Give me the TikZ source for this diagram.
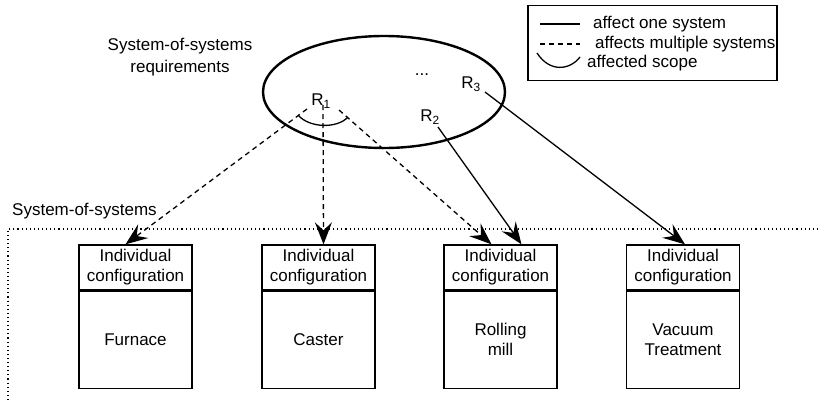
\documentclass[tikz,border=0pt]{standalone}
\usepackage{fontspec}
\setmainfont{Liberation Sans}
\usetikzlibrary{arrows.meta,calc}

\tikzset{
  lbl/.style={inner sep=0pt, font=\fontsize{17}{20}\selectfont},
  hdrbox/.style={draw, line width=1.3pt, minimum width=113pt, minimum height=45pt,
    inner sep=0pt, align=center, font=\fontsize{17}{20}\selectfont},
  bodybox/.style={draw, line width=1.3pt, minimum width=113pt, minimum height=97pt,
    inner sep=0pt, align=center, font=\fontsize{17}{20}\selectfont},
  tip/.style={-{Stealth[length=22pt,width=17pt,inset=8pt]}},
  one/.style={tip, line width=1.3pt},
  many/.style={tip, line width=1.3pt, dash pattern=on 5pt off 4pt},
  scope/.style={line width=1.3pt},
  sosborder/.style={line width=1.1pt, dash pattern=on 1.1pt off 3pt},
}

\begin{document}
\begin{tikzpicture}[x=1pt,y=-1pt]
\useasboundingbox (0,0) rectangle (818,402);

% requirements ellipse
\draw[line width=2.4pt] (384,92) ellipse [x radius=121, y radius=56];
\node[lbl, align=center, font=\fontsize{17}{22}\selectfont] (reqlbl) at (180,57)
  {System-of-systems\\requirements};
\node[lbl] (dots) at (422,75) {...};
\node[lbl] (r1) at (321,101) {R\textsubscript{1}};
\node[lbl] (r2) at (430,117) {R\textsubscript{2}};
\node[lbl] (r3) at (471,84) {R\textsubscript{3}};

% legend
\node[draw, line width=1.3pt, minimum width=249pt, minimum height=75pt, inner sep=0pt]
  (legend) at (652.5,43) {};
\coordinate (l1a) at (540,24); \coordinate (l1b) at (580,24);
\coordinate (l2a) at (540,44); \coordinate (l2b) at (580,44);
\draw[line width=1.3pt] (l1a) -- (l1b);
\draw[line width=1.3pt, dash pattern=on 5pt off 4pt] (l2a) -- (l2b);
\draw[scope] (537,53) .. controls (550,73) and (570,70) .. (580,57);
\node[lbl, anchor=west] (lg1) at (593,24) {affect one system};
\node[lbl, anchor=west] (lg2) at (595,44) {affects multiple systems};
\node[lbl, anchor=west] (lg3) at (587,63) {affected scope};

% system-of-systems boundary
\node[lbl, anchor=west] (soslbl) at (12,211) {System-of-systems};
\draw[sosborder] (818,229) -- (8,229) -- (8,402);

% individual systems
\foreach \n/\x/\t in {fur/135.5/Furnace, cas/318.5/Caster,
                     rol/500.5/{Rolling\\mill}, vac/683/{Vacuum\\Treatment}} {
  \node[hdrbox] (\n h) at (\x,267.5) {Individual\\configuration};
  \node[bodybox, anchor=north] (\n b) at (\n h.south) {\t};
}

% affected scope of R1
\coordinate (s1) at (307,109);
\coordinate (s2) at (323,105);
\coordinate (s3) at (339,110);
\draw[scope] (298,115) .. controls (309,128) and (337,129) .. (348,117);

% requirement relations
\draw[many] (s1) -- ($(furh.north)+(-10,0)$);
\draw[many] (s2) -- ($(cash.north)+(5,0)$);
\draw[many] (s3) -- ($(rolh.north)+(-9,0)$);
\draw[one] (438,127) -- ($(rolh.north)+(21,0)$);
\draw[one] (485,92) -- ($(vach.north)+(2,0)$);
\end{tikzpicture}
\end{document}
